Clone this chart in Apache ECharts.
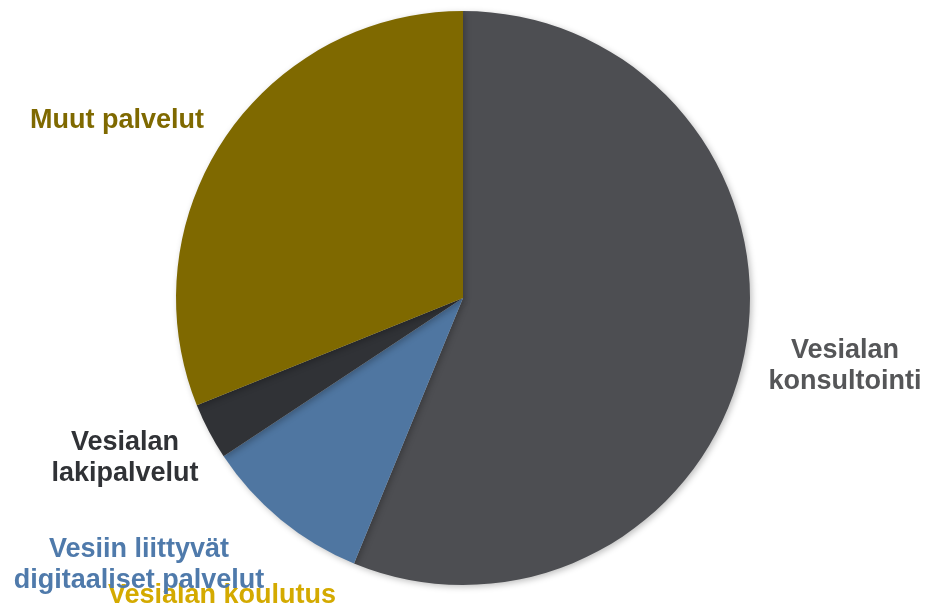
<!DOCTYPE html>
<html>
<head>
<meta charset="utf-8">
<script src="https://cdn.jsdelivr.net/npm/echarts@6/dist/echarts.min.js"></script>
<style>
html,body{margin:0;padding:0;background:#fff;}
#chart{width:926px;height:609px;}
</style>
</head>
<body>
<div id="chart"></div>
<script>
var categories = ['Vesialan konsultointi', 'Vesialan koulutus', 'Vesiin liittyvät digitaaliset palvelut', 'Vesialan lakipalvelut', 'Muut palvelut'];
var labelTexts = ['Vesialan\nkonsultointi', 'Vesialan koulutus', 'Vesiin liittyvät\ndigitaaliset palvelut', 'Vesialan\nlakipalvelut', 'Muut palvelut'];
var values = [56.2, 0, 9.5, 3.2, 31.1];
var sliceColors = ['#4d4e52', '#d4a900', '#4f76a1', '#303236', '#7f6900'];
var labelColors = ['#555658', '#d4aa00', '#4f7aab', '#303236', '#7f6900'];

var labelPos = [
  {x: 845, y: 366}, {x: 222, y: 596}, {x: 139, y: 565}, {x: 125, y: 458}, {x: 117, y: 121}
];

var chart = echarts.init(document.getElementById('chart'));
var data = categories.map(function (c, i) {
  return {
    name: c,
    value: values[i],
    itemStyle: {color: sliceColors[i]},
    label: {color: labelColors[i], formatter: labelTexts[i]}
  };
});
chart.setOption({
  animation: false,
  series: [{
    type: 'pie',
    center: [463, 298],
    radius: [0, 287],
    startAngle: 90,
    clockwise: true,
    avoidLabelOverlap: false,
    minShowLabelAngle: 0,
    data: data,
    itemStyle: {
      borderWidth: 0,
      shadowBlur: 6,
      shadowColor: 'rgba(0,0,0,0.25)',
      shadowOffsetX: 2,
      shadowOffsetY: 2
    },
    label: {
      show: true,
      position: 'outside',
      fontFamily: 'Liberation Sans, Arial, sans-serif',
      fontWeight: 'bold',
      fontSize: 27,
      lineHeight: 31,
      align: 'center'
    },
    labelLine: {show: false},
    labelLayout: function (p) {
      var pos = labelPos[p.dataIndex];
      return {x: pos.x, y: pos.y, align: 'center', verticalAlign: 'middle'};
    },
    emphasis: {disabled: true}
  }]
});
</script>
</body>
</html>
